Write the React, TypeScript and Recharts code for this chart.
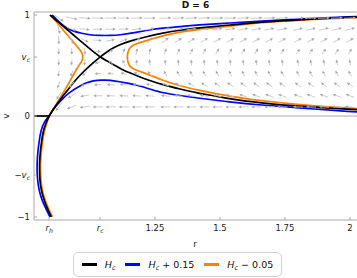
import React from 'react';
import { ComposedChart, Line, Scatter, XAxis, YAxis, ReferenceLine, Label } from 'recharts';

// ---------- ticks ----------
const xTicks = [0.843, 1.039, 1.25, 1.5, 1.75, 2];
const xTickLabels = ['r_h', 'r_c', '1.25', '1.5', '1.75', '2'];
const yTicks = [-1, -0.584, 0, 0.584, 1];
const yTickLabels = ['−1', '−v_c', '0', 'v_c', '1'];

// ---------- curves (r, v) ----------
// H_c: branch from the bottom C-shape through (r_h,0) and the saddle to the upper right
const hcRising = [
  { r: 0.8515, v: -1.0 }, { r: 0.835, v: -0.911 }, { r: 0.8196, v: -0.802 }, { r: 0.812, v: -0.723 },
  { r: 0.8073, v: -0.634 }, { r: 0.8062, v: -0.535 }, { r: 0.8065, v: -0.436 }, { r: 0.81, v: -0.337 },
  { r: 0.815, v: -0.238 }, { r: 0.8196, v: -0.158 }, { r: 0.8292, v: -0.079 }, { r: 0.843, v: 0 },
  { r: 0.8581, v: 0.059 }, { r: 0.8735, v: 0.119 }, { r: 0.8927, v: 0.188 }, { r: 0.912, v: 0.248 },
  { r: 0.935, v: 0.327 }, { r: 0.962, v: 0.406 }, { r: 1.0004, v: 0.5 }, { r: 1.039, v: 0.584 },
  { r: 1.062, v: 0.629 }, { r: 1.0888, v: 0.673 }, { r: 1.1196, v: 0.713 }, { r: 1.1542, v: 0.743 },
  { r: 1.212, v: 0.782 }, { r: 1.281, v: 0.822 }, { r: 1.3465, v: 0.851 }, { r: 1.412, v: 0.871 },
  { r: 1.539, v: 0.901 }, { r: 1.654, v: 0.931 }, { r: 1.808, v: 0.955 }, { r: 2.027, v: 0.98 },
];
// H_c: branch from the top-left through the saddle to the lower right
const hcFalling = [
  { r: 0.8465, v: 1.0 }, { r: 0.8735, v: 0.941 }, { r: 0.9004, v: 0.881 }, { r: 0.9235, v: 0.832 },
  { r: 0.9504, v: 0.772 }, { r: 0.9735, v: 0.723 }, { r: 1.0004, v: 0.663 }, { r: 1.0196, v: 0.624 },
  { r: 1.039, v: 0.584 }, { r: 1.0658, v: 0.545 }, { r: 1.0965, v: 0.5 }, { r: 1.1235, v: 0.46 },
  { r: 1.1542, v: 0.426 }, { r: 1.1927, v: 0.386 }, { r: 1.2312, v: 0.351 }, { r: 1.2812, v: 0.307 },
  { r: 1.3465, v: 0.267 }, { r: 1.412, v: 0.228 }, { r: 1.4812, v: 0.198 }, { r: 1.539, v: 0.168 },
  { r: 1.654, v: 0.129 }, { r: 1.808, v: 0.094 }, { r: 2.027, v: 0.064 },
];
// H_c on v = 0 inside the horizon
const hcAxis = [{ r: 0.785, v: 0 }, { r: 0.843, v: 0 }];

// H_c + 0.15
const hpUpper = [
  { r: 0.8542, v: 1.0 }, { r: 0.8696, v: 0.96 }, { r: 0.885, v: 0.925 }, { r: 0.9004, v: 0.891 },
  { r: 0.912, v: 0.871 }, { r: 0.935, v: 0.842 }, { r: 0.9619, v: 0.822 }, { r: 1.0004, v: 0.802 },
  { r: 1.0388, v: 0.797 }, { r: 1.0773, v: 0.797 }, { r: 1.1158, v: 0.802 }, { r: 1.1658, v: 0.822 },
  { r: 1.212, v: 0.847 }, { r: 1.2812, v: 0.871 }, { r: 1.3465, v: 0.886 }, { r: 1.412, v: 0.901 },
  { r: 1.539, v: 0.921 }, { r: 1.654, v: 0.941 }, { r: 1.808, v: 0.96 }, { r: 2.027, v: 0.985 },
];
const hpLower = [
  { r: 0.8465, v: -1.0 }, { r: 0.8312, v: -0.921 }, { r: 0.8138, v: -0.822 }, { r: 0.8042, v: -0.733 },
  { r: 0.7985, v: -0.634 }, { r: 0.7965, v: -0.535 }, { r: 0.7973, v: -0.436 }, { r: 0.8004, v: -0.337 },
  { r: 0.8054, v: -0.238 }, { r: 0.8119, v: -0.139 }, { r: 0.8235, v: -0.059 }, { r: 0.843, v: 0 },
  { r: 0.8542, v: 0.0495 }, { r: 0.8696, v: 0.099 }, { r: 0.8965, v: 0.178 }, { r: 0.9235, v: 0.238 },
  { r: 0.9619, v: 0.302 }, { r: 1.0004, v: 0.342 }, { r: 1.0273, v: 0.356 }, { r: 1.058, v: 0.356 },
  { r: 1.0965, v: 0.347 }, { r: 1.1427, v: 0.327 }, { r: 1.1927, v: 0.297 }, { r: 1.2312, v: 0.267 },
  { r: 1.2812, v: 0.228 }, { r: 1.3465, v: 0.203 }, { r: 1.412, v: 0.178 }, { r: 1.539, v: 0.139 },
  { r: 1.654, v: 0.109 }, { r: 1.808, v: 0.079 }, { r: 2.027, v: 0.04 },
];

// H_c - 0.05
const hmLeft = [
  { r: 0.8562, v: -1.0 }, { r: 0.8388, v: -0.911 }, { r: 0.8235, v: -0.802 }, { r: 0.8158, v: -0.723 },
  { r: 0.8112, v: -0.634 }, { r: 0.81, v: -0.535 }, { r: 0.8104, v: -0.436 }, { r: 0.8138, v: -0.337 },
  { r: 0.8188, v: -0.238 }, { r: 0.8235, v: -0.158 }, { r: 0.8331, v: -0.079 }, { r: 0.843, v: 0 },
  { r: 0.8542, v: 0.054 }, { r: 0.8696, v: 0.114 }, { r: 0.8888, v: 0.193 }, { r: 0.9081, v: 0.277 },
  { r: 0.9312, v: 0.381 }, { r: 0.9504, v: 0.475 }, { r: 0.9619, v: 0.515 }, { r: 0.9708, v: 0.55 },
  { r: 0.9735, v: 0.584 }, { r: 0.9708, v: 0.619 }, { r: 0.9619, v: 0.653 }, { r: 0.9504, v: 0.688 },
  { r: 0.9312, v: 0.752 }, { r: 0.912, v: 0.807 }, { r: 0.8965, v: 0.851 }, { r: 0.8735, v: 0.926 },
  { r: 0.8465, v: 1.0 },
];
const hmRight = [
  { r: 2.027, v: 0.074 }, { r: 1.808, v: 0.109 }, { r: 1.654, v: 0.153 }, { r: 1.539, v: 0.193 },
  { r: 1.412, v: 0.257 }, { r: 1.3465, v: 0.297 }, { r: 1.2812, v: 0.351 }, { r: 1.2312, v: 0.406 },
  { r: 1.1927, v: 0.441 }, { r: 1.1658, v: 0.465 }, { r: 1.1542, v: 0.49 }, { r: 1.1465, v: 0.525 },
  { r: 1.1427, v: 0.584 }, { r: 1.1465, v: 0.644 }, { r: 1.1542, v: 0.678 }, { r: 1.1658, v: 0.703 },
  { r: 1.1927, v: 0.728 }, { r: 1.2312, v: 0.757 }, { r: 1.2812, v: 0.797 }, { r: 1.3465, v: 0.832 },
  { r: 1.412, v: 0.856 }, { r: 1.539, v: 0.891 }, { r: 1.654, v: 0.926 }, { r: 1.808, v: 0.95 },
  { r: 2.027, v: 0.975 },
];

// ---------- vector field ----------
const arrowCols = [0.88, 0.93, 0.98, 1.03, 1.08, 1.13, 1.18, 1.23, 1.29, 1.34, 1.39, 1.44, 1.49, 1.54, 1.59, 1.64, 1.69, 1.74, 1.8, 1.85, 1.9, 1.95, 2.0];
const arrowRows = [0.97, 0.86, 0.75, 0.64, 0.53, 0.42, 0.31, 0.2, 0.09];
// screen direction in degrees (0 = right, 90 = up)
const arrowAngles = [
  [-35, -12, -4, -1, 0, 0, 1, 1, 2, 2, 2, 2, 2, 2, 2, 2, 2, 2, 2, 2, 2, 2, 2],
  [-75, -20, -6, -1, 1, 3, 8, 10, 9, 8, 8, 8, 9, 9, 10, 10, 11, 12, 12, 13, 14, 14, 15],
  [-88, -65, -25, -5, 12, 20, 30, 45, 38, 33, 30, 29, 28, 28, 28, 28, 28, 29, 29, 30, 30, 30, 30],
  [-90, -88, -80, 0, 45, 70, 80, 78, 72, 65, 62, 60, 60, 58, 58, 57, 57, 56, 56, 55, 55, 55, 55],
  [-92, -95, -100, -165, 140, 110, 97, 95, 95, 96, 97, 98, 98, 98, 99, 99, 100, 100, 100, 100, 100, 100, 100],
  [-100, -110, -140, -175, 175, 165, 155, 130, 120, 118, 118, 118, 118, 118, 118, 118, 118, 118, 118, 118, 118, 118, 118],
  [-110, -130, -160, 180, 178, 174, 170, 168, 160, 150, 148, 146, 145, 145, 145, 145, 145, 145, 145, 145, 145, 145, 145],
  [-120, -150, -170, 180, 178, 177, 176, 175, 174, 172, 172, 170, 165, 162, 160, 160, 160, 160, 160, 160, 160, 160, 160],
  [-125, -160, -172, 180, 180, 180, 180, 180, 180, 180, 180, 180, 180, 180, 180, 180, 180, 179, 178, 177, 176, 175, 174],
];
const arrowMag = [1.0, 0.85, 0.7, 0.55, 0.5, 0.55, 0.65, 0.75, 0.85];

const arrowData = arrowRows.flatMap((v, i) =>
  arrowCols.map((r, j) => ({ r, v, a: arrowAngles[i][j], m: arrowMag[i] }))
);

// ---------- legend ----------
const legendSuffix = ['', ' + 0.15', ' − 0.05'];
const legendColors = ['#000000', '#0000ff', '#ff8000'];

const FONT = '"DejaVu Sans", "Liberation Sans", Arial, sans-serif';
const AXIS = '#a8a8a8';
const PLOT_LEFT = 34;
const PLOT_BOTTOM = 220;

function TickText({ x, y, text, anchor, size }: any) {
  const m = /^(−?)([A-Za-z])_([A-Za-z])$/.exec(text || '');
  if (!m) {
    return (
      <text x={x} y={y} textAnchor={anchor} fontSize={size} fontFamily={FONT} fill="#1a1a1a">
        {text}
      </text>
    );
  }
  return (
    <text x={x} y={y} textAnchor={anchor} fontSize={size} fontFamily={FONT} fill="#1a1a1a">
      {m[1]}
      <tspan fontStyle="italic">{m[2]}</tspan>
      <tspan fontStyle="italic" fontSize={size * 0.72} dy={size * 0.28}>{m[3]}</tspan>
    </text>
  );
}

const XTick = (props: any) => {
  const { x, payload } = props;
  const i = xTicks.indexOf(payload.value);
  return (
    <g>
      <line x1={x} x2={x} y1={PLOT_BOTTOM} y2={PLOT_BOTTOM - 3} stroke={AXIS} />
      <TickText x={x} y={PLOT_BOTTOM + 11} text={xTickLabels[i]} anchor="middle" size={8.5} />
    </g>
  );
};

const YTick = (props: any) => {
  const { y, payload } = props;
  const i = yTicks.indexOf(payload.value);
  return (
    <g>
      <line x1={PLOT_LEFT} x2={PLOT_LEFT + 3} y1={y} y2={y} stroke={AXIS} />
      <TickText x={PLOT_LEFT - 4} y={y + 3} text={yTickLabels[i]} anchor="end" size={8.5} />
    </g>
  );
};

const ArrowShape = (props: any) => {
  const { cx, cy, payload } = props;
  if (cx == null || cy == null) return <g />;
  const L = 12 * payload.m;
  const a = (payload.a * Math.PI) / 180;
  const dx = Math.cos(a);
  const dy = -Math.sin(a);
  const x1 = cx - (dx * L) / 2;
  const y1 = cy - (dy * L) / 2;
  const x2 = cx + (dx * L) / 2;
  const y2 = cy + (dy * L) / 2;
  const h = 3;
  const w = 1.5;
  const bx = x2 - dx * h;
  const by = y2 - dy * h;
  const px = -dy;
  const py = dx;
  const pts = `${x2},${y2} ${bx + px * w},${by + py * w} ${bx - px * w},${by - py * w}`;
  return (
    <g>
      <line x1={x1} y1={y1} x2={bx} y2={by} stroke="#c6c6c6" strokeWidth={0.9} />
      <polygon points={pts} fill="#a8a8a8" />
    </g>
  );
};

const curve = (data: any[], color: string, key: string, type: any) => (
  <Line
    key={key}
    data={data}
    dataKey="v"
    type={type}
    stroke={color}
    strokeWidth={1.7}
    dot={false}
    activeDot={false}
    isAnimationActive={false}
    legendType="none"
  />
);

export default function App() {
  return (
    <div style={{ position: 'absolute', left: 0, top: 0, width: 357, height: 278, background: '#fff' }}>
      <ComposedChart width={357} height={278} margin={{ top: 12, right: 0, bottom: 28, left: 0 }}>
        <XAxis
          type="number"
          dataKey="r"
          domain={[0.785, 2.027]}
          ticks={xTicks}
          interval={0}
          allowDataOverflow
          height={30}
          tickLine={false}
          axisLine={{ stroke: AXIS }}
          tick={(p: any) => <XTick {...p} />}
        >
          <Label
            content={() => (
              <text x={195} y={247} textAnchor="middle" fontSize={9} fontFamily={FONT} fill="#1a1a1a">
                r
              </text>
            )}
          />
        </XAxis>
        <YAxis
          type="number"
          dataKey="v"
          domain={[-1.03, 1.03]}
          ticks={yTicks}
          interval={0}
          allowDataOverflow
          width={34}
          tickLine={false}
          axisLine={{ stroke: AXIS }}
          tick={(p: any) => <YTick {...p} />}
        >
          <Label
            content={() => (
              <text x={6} y={116} textAnchor="middle" dominantBaseline="central" fontSize={9} fontFamily={FONT} fill="#1a1a1a" transform="rotate(-90 6 116)">
                v
              </text>
            )}
          />
        </YAxis>
        <ReferenceLine y={0} stroke="#c6c6c6" strokeWidth={1.3} />
        <ReferenceLine y={1.03} stroke={AXIS} />
        <Scatter data={arrowData} dataKey="v" isAnimationActive={false} shape={(p: any) => <ArrowShape {...p} />} legendType="none" />
        {curve(hmLeft, '#ff8000', 'hmL', 'basis')}
        {curve(hmRight, '#ff8000', 'hmR', 'basis')}
        {curve(hpUpper, '#0000ff', 'hpU', 'basis')}
        {curve(hpLower, '#0000ff', 'hpL', 'basis')}
        {curve(hcAxis, '#000000', 'hcA', 'linear')}
        {curve(hcFalling, '#000000', 'hcF', 'basis')}
        {curve(hcRising, '#000000', 'hcR', 'basis')}
      </ComposedChart>
      <div
        style={{
          position: 'absolute', left: 34, top: 0, width: 323, textAlign: 'center',
          fontFamily: FONT, fontWeight: 'bold', fontSize: 9, lineHeight: '11px', color: '#111',
        }}
      >
        D = 6
      </div>
      <div
        style={{
          position: 'absolute', left: 73, top: 252, width: 209, height: 25, boxSizing: 'border-box',
          border: '1px solid #d2d2d2', borderRadius: 5, display: 'flex', alignItems: 'center',
          justifyContent: 'center', gap: 10, fontFamily: FONT, fontSize: 9.5, color: '#111',
        }}
      >
        {legendSuffix.map((s, i) => (
          <div key={i} style={{ display: 'flex', alignItems: 'center' }}>
            <div style={{ width: 15, height: 3, background: legendColors[i], marginRight: 8 }} />
            <span style={{ whiteSpace: 'pre' }}>
              <i>H</i>
              <span style={{ fontSize: 6.5, fontStyle: 'italic', position: 'relative', top: 2 }}>c</span>
              {s}
            </span>
          </div>
        ))}
      </div>
    </div>
  );
}
